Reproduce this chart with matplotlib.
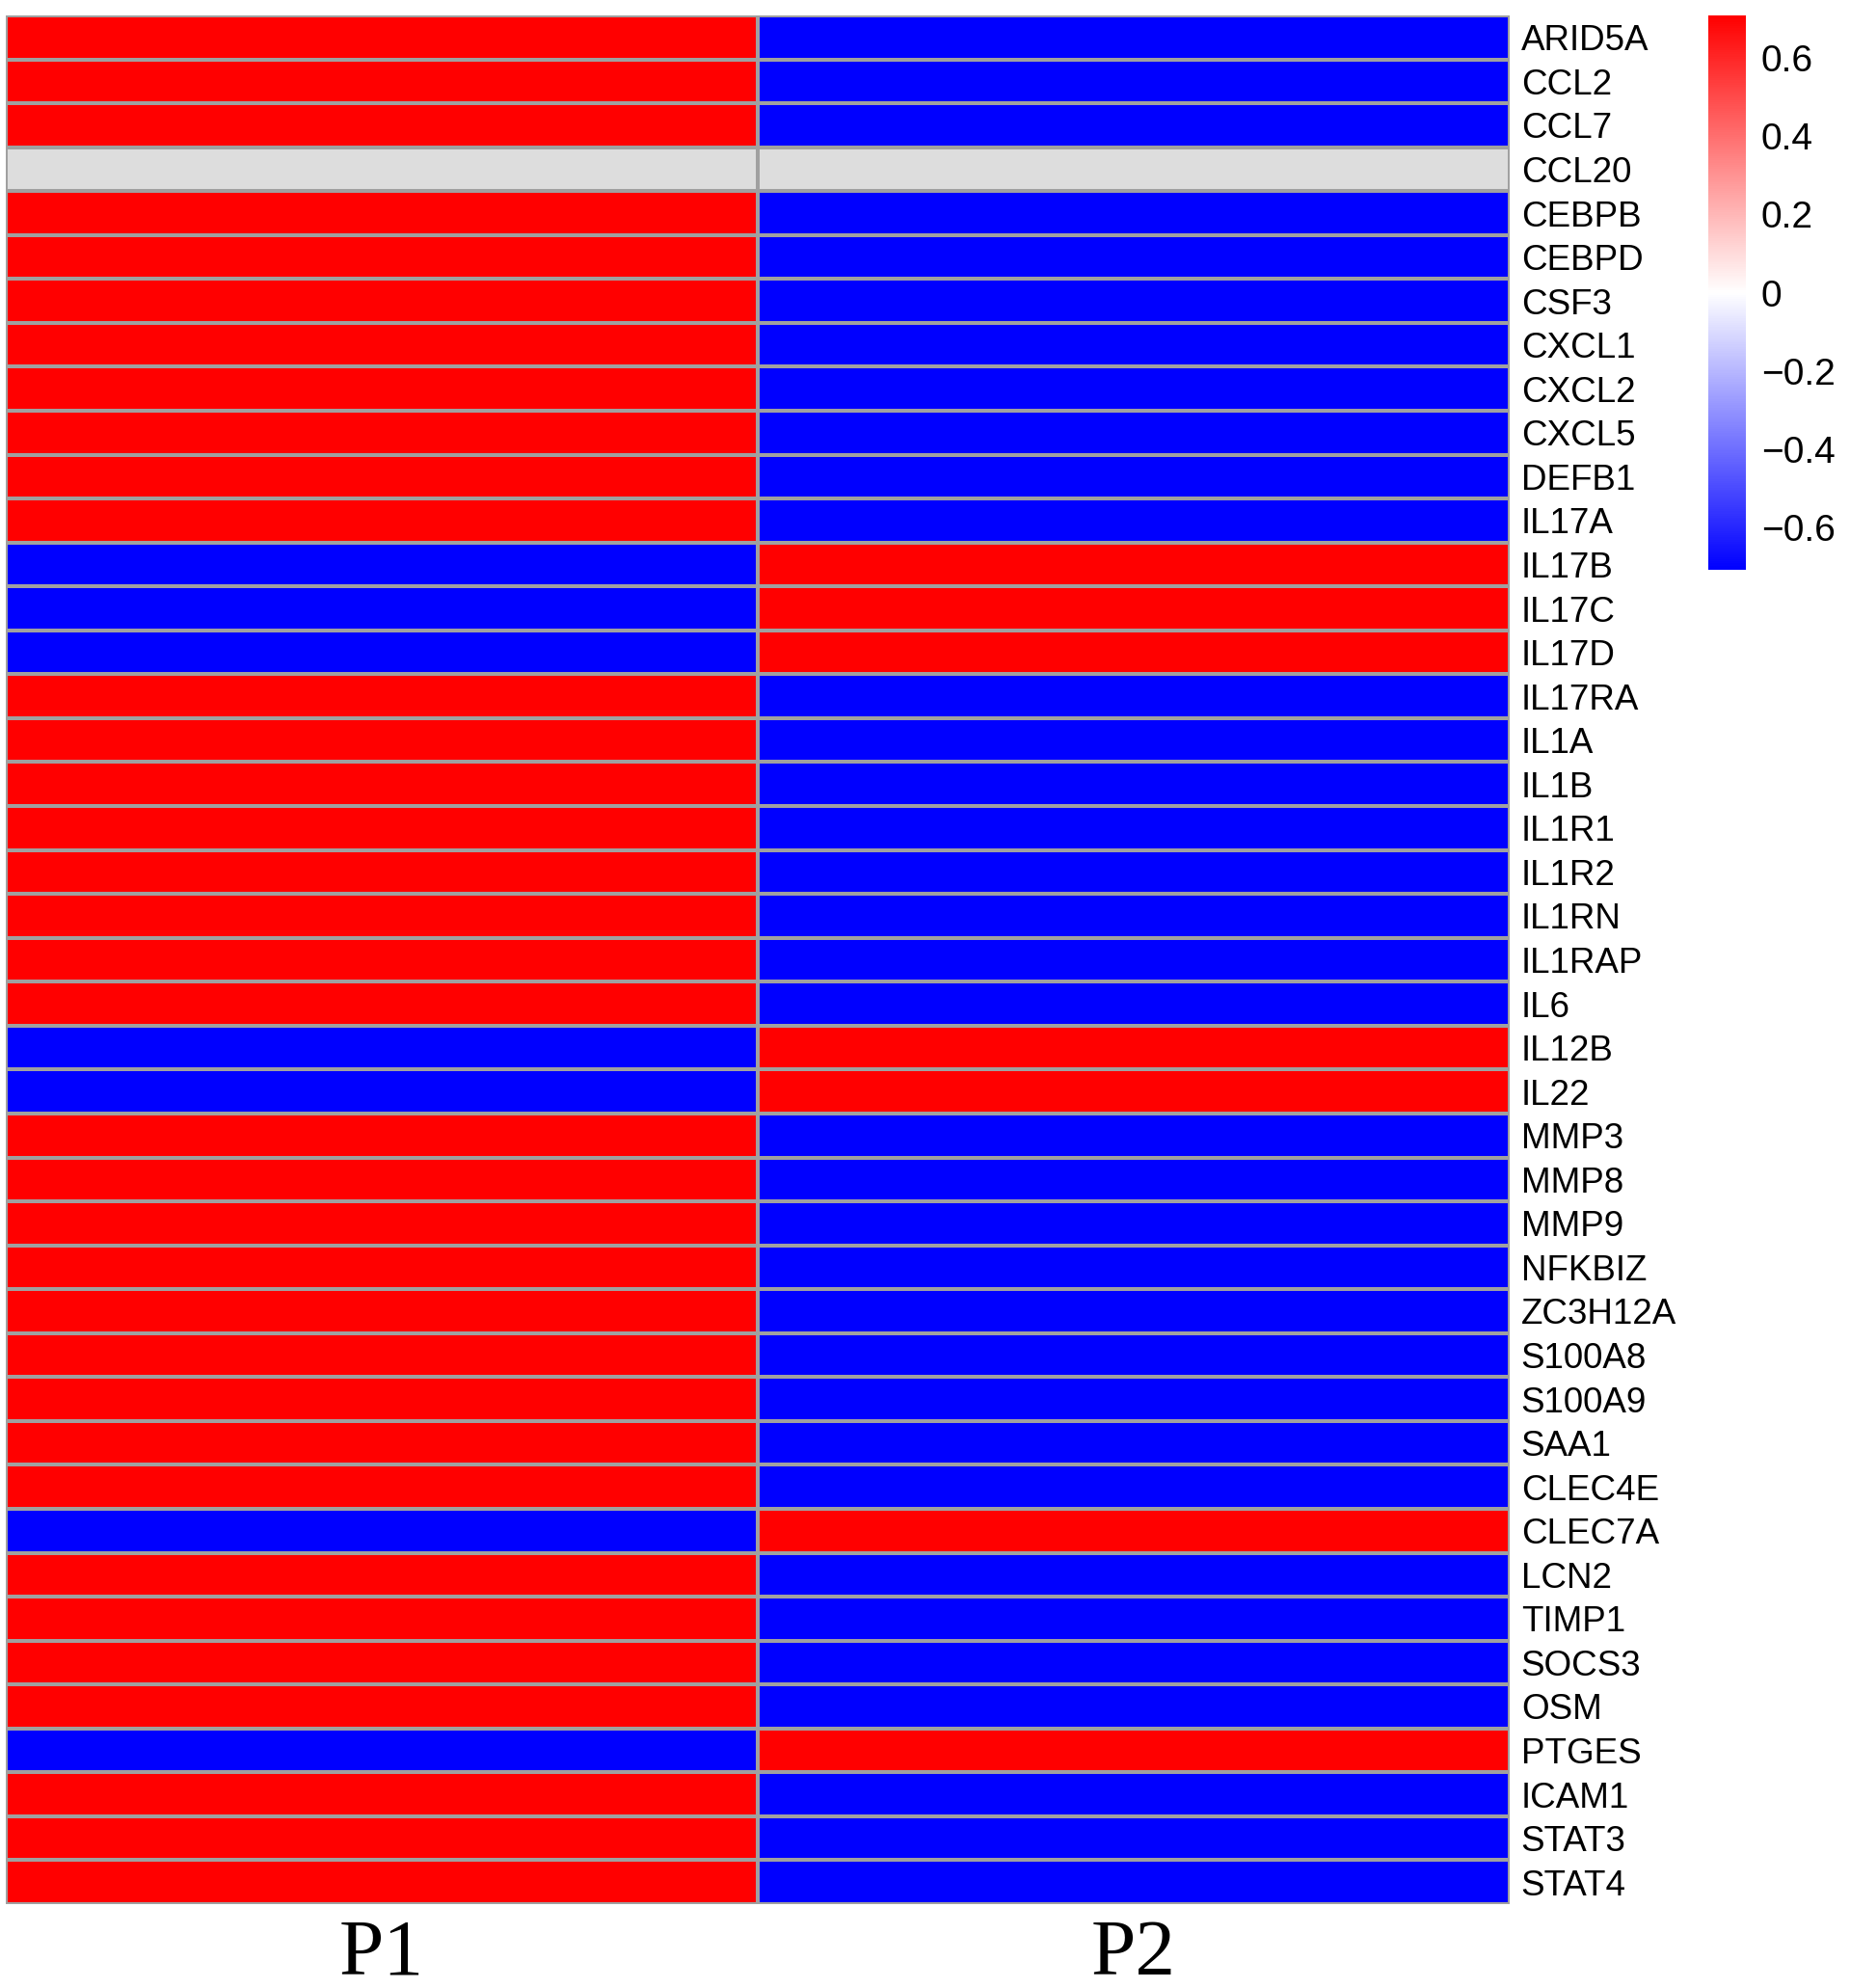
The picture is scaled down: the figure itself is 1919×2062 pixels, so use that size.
import numpy as np
import matplotlib
matplotlib.use("Agg")
import matplotlib.pyplot as plt
from matplotlib.colors import LinearSegmentedColormap
import matplotlib.transforms as mtransforms

genes = ["ARID5A", "CCL2", "CCL7", "CCL20", "CEBPB", "CEBPD", "CSF3", "CXCL1",
         "CXCL2", "CXCL5", "DEFB1", "IL17A", "IL17B", "IL17C", "IL17D", "IL17RA",
         "IL1A", "IL1B", "IL1R1", "IL1R2", "IL1RN", "IL1RAP", "IL6", "IL12B",
         "IL22", "MMP3", "MMP8", "MMP9", "NFKBIZ", "ZC3H12A", "S100A8", "S100A9",
         "SAA1", "CLEC4E", "CLEC7A", "LCN2", "TIMP1", "SOCS3", "OSM", "PTGES",
         "ICAM1", "STAT3", "STAT4"]
samples = ["P1", "P2"]
nan = float("nan")
P1 = [0.707, 0.707, 0.707, nan, 0.707, 0.707, 0.707, 0.707,
      0.707, 0.707, 0.707, 0.707, -0.707, -0.707, -0.707, 0.707,
      0.707, 0.707, 0.707, 0.707, 0.707, 0.707, 0.707, -0.707,
      -0.707, 0.707, 0.707, 0.707, 0.707, 0.707, 0.707, 0.707,
      0.707, 0.707, -0.707, 0.707, 0.707, 0.707, 0.707, -0.707,
      0.707, 0.707, 0.707]
P2 = [-v for v in P1]
cbar_ticks = [-0.6, -0.4, -0.2, 0, 0.2, 0.4, 0.6]
cbar_ticklabels = ["\u22120.6", "\u22120.4", "\u22120.2", "0", "0.2", "0.4", "0.6"]

W, H = 1919, 2062
fig = plt.figure(figsize=(W / 100, H / 100), dpi=100)
fig.patch.set_facecolor("white")

data = np.ma.masked_invalid(np.array([P1, P2]).T)
cmap = LinearSegmentedColormap.from_list("bwr2", ["#0000FF", "#FFFFFF", "#FF0000"], N=256)
cmap.set_bad("#DDDDDD")

left, right, top, bottom = 6, 1566, 16, 1975
ax = fig.add_axes([left / W, 1 - bottom / H, (right - left) / W, (bottom - top) / H])
mesh = ax.pcolormesh(np.arange(len(samples) + 1), np.arange(len(genes) + 1), data,
                     cmap=cmap, vmin=-0.7071, vmax=0.7071,
                     edgecolors="#A0A0A0", linewidth=1.6)
ax.set_xlim(0, len(samples))
ax.set_ylim(len(genes), 0)
for s in ax.spines.values():
    s.set_visible(False)
ax.yaxis.tick_right()
ax.set_yticks(np.arange(len(genes)) + 0.5)
ax.set_yticklabels(genes, fontsize=26.5, family="Liberation Sans")
ax.tick_params(axis="y", length=0, pad=8.5)
ax.set_xticks([])

trans = mtransforms.blended_transform_factory(ax.transData, fig.transFigure)
for i, s in enumerate(samples):
    ax.text(i + 0.5, 1 - 2028 / H, s, transform=trans, ha="center", va="center",
            fontsize=60, family="Liberation Serif")

cax = fig.add_axes([1772 / W, 1 - 591 / H, 39 / W, 575 / H])
cb = fig.colorbar(mesh, cax=cax)
cb.outline.set_visible(False)
cb.set_ticks(cbar_ticks)
cb.set_ticklabels(cbar_ticklabels)
cax.tick_params(length=0, pad=11.5, labelsize=28)
for lab in cax.get_yticklabels():
    lab.set_family("Liberation Sans")

fig.savefig("out.png", dpi=100, facecolor="white")
